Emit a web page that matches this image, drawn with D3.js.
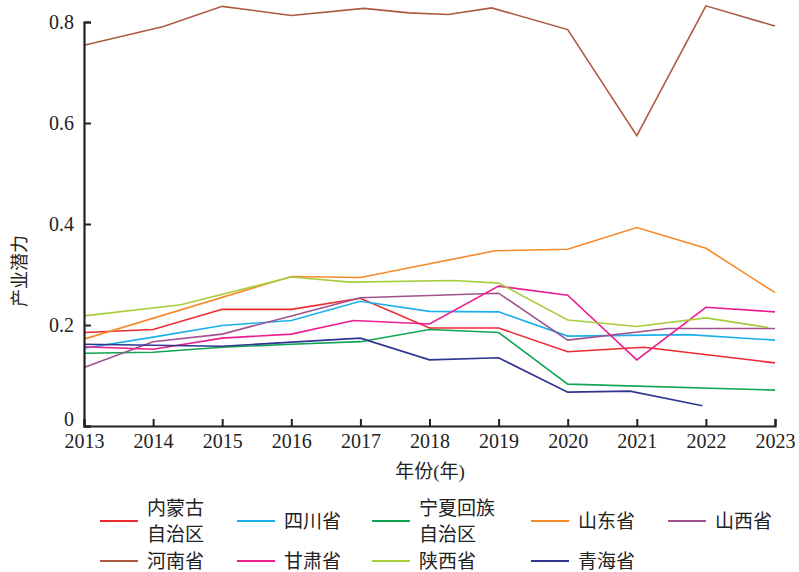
<!DOCTYPE html>
<html>
<head>
<meta charset="utf-8">
<script src="https://cdn.jsdelivr.net/npm/d3@7"></script>
<style>
  body { margin: 0; background: #fff; }
  svg text { font-family: "Liberation Serif", "Noto Sans CJK SC", serif; fill: #222; }
</style>
</head>
<body>
<div id="chart"></div>
<script>
// tick labels
const yearTicks = [2013, 2014, 2015, 2016, 2017, 2018, 2019, 2020, 2021, 2022, 2023];
const valueTicks = [0, 0.2, 0.4, 0.6, 0.8];

// series, [year, value]
const neimenggu = [[2013, .185], [2014, .191], [2015, .231], [2016, .231], [2017, .253], [2018, .194], [2019, .194], [2020, .147], [2021.1, .156], [2023, .125]];
const sichuan = [[2013, .154], [2014, .176], [2015, .199], [2016, .209], [2017, .247], [2018, .227], [2019, .226], [2020, .178], [2021.75, .181], [2023, .170]];
const ningxia = [[2013, .144], [2014, .146], [2015, .156], [2016, .162], [2017, .167], [2018, .191], [2019, .185], [2020, .083], [2023, .071]];
const shandong = [[2013, .172], [2016, .296], [2017, .294], [2018.95, .347], [2020, .350], [2021, .393], [2022, .352], [2023, .264]];
const shanxi = [[2013, .116], [2014, .167], [2015, .182], [2016, .218], [2017, .254], [2019, .263], [2020, .170], [2021.45, .193], [2023, .193]];
const henan = [[2013, .754], [2014.15, .791], [2015, .831], [2016, .813], [2017.05, .827], [2017.7, .818], [2018.27, .815], [2018.9, .828], [2020, .785], [2021, .575], [2022, .832], [2023, .792]];
const gansu = [[2013, .157], [2014, .152], [2015, .174], [2016, .182], [2016.9, .209], [2018, .202], [2019, .277], [2020, .259], [2021, .131], [2022, .235], [2023, .226]];
const shaanxi = [[2013, .218], [2014.4, .240], [2016, .295], [2016.85, .285], [2018.35, .288], [2019, .283], [2020, .210], [2021, .197], [2022, .214], [2022.9, .195]];
const qinghai = [[2013, .162], [2015, .158], [2017, .174], [2018, .131], [2019, .135], [2020, .067], [2020.9, .069], [2021.95, .040]];

const names = ['内蒙古\n自治区', '四川省', '宁夏回族\n自治区', '山东省', '山西省', '河南省', '甘肃省', '陕西省', '青海省'];
const seriesData = [neimenggu, sichuan, ningxia, shandong, shanxi, henan, gansu, shaanxi, qinghai];
const colors = ['#ee2a2e', '#1ab0ec', '#10a552', '#f68a2a', '#a0528e', '#ad5a40', '#ec1d8e', '#a8cd3c', '#2f3590'];

var width = 799
    ,height = 572
    ,margin = { top: 22, right: 24, bottom: 146, left: 84 };

const svg = d3.select('#chart').append('svg')
    .attr('width', width)
    .attr('height', height);

const x = d3.scaleLinear()
    .domain([2013, 2023])
    .range([margin.left, width - margin.right]);

const y = d3.scaleLinear()
    .domain([0, 0.8])
    .range([height - margin.bottom, margin.top]);

// lines first, axes drawn on top
const line = d3.line()
    .x(d => x(d[0]))
    .y(d => y(d[1]));

svg.append('g')
    .selectAll('path')
    .data(seriesData)
    .enter()
    .append('path')
    .attr('d', line)
    .attr('fill', 'none')
    .attr('stroke', (d, i) => colors[i])
    .attr('stroke-width', 1.6)
    .attr('stroke-linejoin', 'miter');

// x axis, ticks pointing inward
const xAxis = svg.append('g')
    .attr('transform', 'translate(0,' + y(0) + ')')
    .call(d3.axisBottom(x).tickValues(yearTicks).tickFormat(d3.format('d')).tickSize(-7).tickPadding(10));

const yAxis = svg.append('g')
    .attr('transform', 'translate(' + x(2013) + ',0)')
    .call(d3.axisLeft(y).tickValues(valueTicks).tickFormat(d => d === 0 ? '0' : d3.format('.1f')(d)).tickSize(-7).tickPadding(10));

[xAxis, yAxis].forEach(a => {
    a.select('.domain').attr('stroke', '#222').attr('stroke-width', 2.2);
    a.selectAll('.tick line').attr('stroke', '#222').attr('stroke-width', 2);
    a.selectAll('.tick text').attr('font-size', 20).attr('fill', '#222')
        .style('font-family', '"Liberation Serif", serif');
});
xAxis.selectAll('.tick text').attr('dy', '0.62em');
yAxis.select('.tick:first-of-type text').attr('dy', '-0.02em');

// axis titles
svg.append('text')
    .attr('x', 430)
    .attr('y', 478)
    .attr('text-anchor', 'middle')
    .attr('font-size', 19)
    .text('年份(年)');

svg.append('text')
    .attr('transform', 'translate(26,271) rotate(-90)')
    .attr('text-anchor', 'middle')
    .attr('font-size', 18)
    .text('产业潜力');

// legend
const legendCols = [100, 237, 372, 531, 668];
const legendRows = [521, 561];

const legend = svg.append('g')
    .selectAll('g')
    .data(names)
    .enter()
    .append('g')
    .attr('transform', (d, i) => 'translate(' + legendCols[i % 5] + ',' + legendRows[Math.floor(i / 5)] + ')');

legend.append('line')
    .attr('x1', 0)
    .attr('x2', 38)
    .attr('stroke', (d, i) => colors[i])
    .attr('stroke-width', 2.2);

legend.each(function(d) {
    var parts = d.split('\n');
    var t = d3.select(this).append('text')
        .attr('x', 47)
        .attr('font-size', 19);
    parts.forEach((p, k) => {
        t.append('tspan')
            .attr('x', 47)
            .attr('y', (k - (parts.length - 1) / 2) * 26)
            .attr('dy', '0.36em')
            .text(p);
    });
});
</script>
</body>
</html>
